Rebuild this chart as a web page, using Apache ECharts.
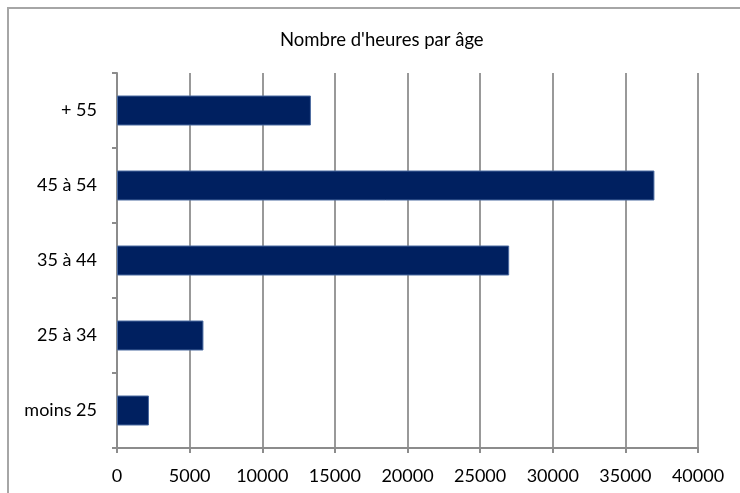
<!DOCTYPE html>
<html>
<head>
<meta charset="utf-8">
<script src="https://cdn.jsdelivr.net/npm/echarts@6/dist/echarts.min.js"></script>
<style>
    html, body { margin: 0; padding: 0; background: #fff; }
    #chart { width: 740px; height: 493px; }
</style>
</head>
<body>
<div id="chart"></div>
<script>
// 数据
const categories = ['moins 25', '25 à 34', '35 à 44', '45 à 54', '+ 55'];
const heures = [2200, 5950, 27000, 37000, 13350];
const xTicks = [0, 5000, 10000, 15000, 20000, 25000, 30000, 35000, 40000];

(function () {
    let myChart = echarts.init(document.getElementById('chart'));
    let fontFam = 'Lato, "Open Sans", sans-serif';
    let option = {
        animation: false,
        // 外框（只看得到左边和上边）
        graphic: [{
            type: 'rect',
            shape: { x: 8, y: 8, width: 1000, height: 1000 },
            style: { fill: 'none', stroke: '#a6a6a6', lineWidth: 2 },
            silent: true
        }],
        title: {
            text: "Nombre d'heures par âge",
            left: 275,
            top: 26,
            textStyle: {
                fontFamily: fontFam,
                fontSize: 18.5,
                fontWeight: 'normal',
                color: '#000'
            }
        },
        grid: {
            left: 117,
            right: 42,
            top: 73,
            bottom: 45,
            containLabel: false
        },
        xAxis: {
            type: 'value',
            min: xTicks[0],
            max: xTicks[xTicks.length - 1],
            interval: xTicks[1] - xTicks[0],
            axisLine: { show: true, lineStyle: { color: '#8c8c8c', width: 2 } },
            axisTick: { show: true, length: 5, lineStyle: { color: '#8c8c8c', width: 2 } },
            axisLabel: {
                color: '#000',
                fontFamily: fontFam,
                fontSize: 18,
                margin: 19,
                // 不要千位分隔符
                formatter: function (v) { return String(v); }
            },
            splitLine: { show: true, lineStyle: { color: '#999', width: 2 } }
        },
        yAxis: {
            type: 'category',
            data: categories,
            axisLine: { show: true, lineStyle: { color: '#8c8c8c', width: 2 } },
            axisTick: { show: true, length: 5, lineStyle: { color: '#8c8c8c', width: 2 } },
            axisLabel: {
                color: '#000',
                fontFamily: fontFam,
                fontSize: 18,
                margin: 20
            },
            splitLine: { show: false }
        },
        series: [{
            name: 'heures',
            type: 'bar',
            data: heures,
            barCategoryGap: '60%',
            itemStyle: {
                color: '#002060',
                borderColor: '#4a6aa0',
                borderWidth: 1
            }
        }]
    };
    myChart.setOption(option);
})();
</script>
</body>
</html>
